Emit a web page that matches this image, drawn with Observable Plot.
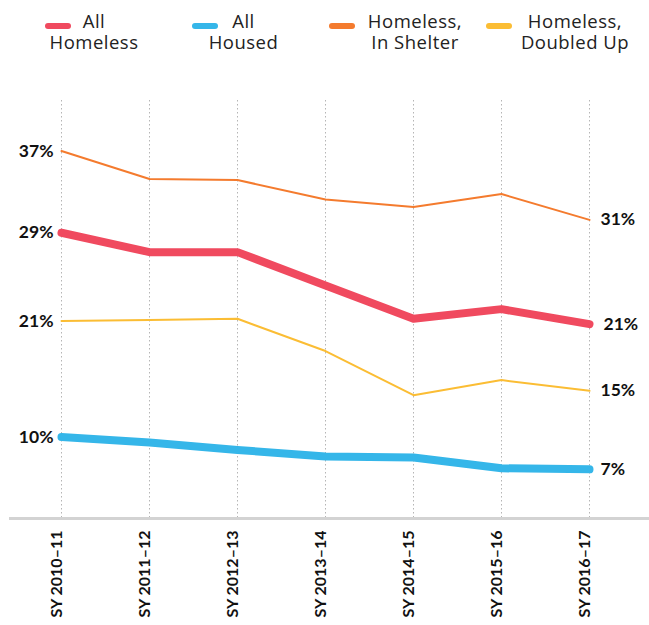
<!DOCTYPE html>
<html>
<head>
<meta charset="utf-8">
<script src="https://cdn.jsdelivr.net/npm/d3@7"></script>
<script src="https://cdn.jsdelivr.net/npm/@observablehq/plot@0.6"></script>
<style>
  html, body { margin: 0; padding: 0; background: #fff; }
  #wrap { position: relative; width: 649px; }
  #legend { position: relative; width: 649px; height: 60px; font-family: "Open Sans", sans-serif; font-size: 18.5px; letter-spacing: 0.5px; color: #222; }
  .sw { position: absolute; width: 26px; height: 6px; border-radius: 3px; top: 23px; }
  .lt { position: absolute; width: 160px; text-align: center; line-height: 20px; height: 20px; white-space: nowrap; }
  svg { display: block; }
</style>
</head>
<body>
<div id="wrap">
  <div id="legend"></div>
  <div id="chart"></div>
</div>
<script>
// ---- data ----
const years = ["SY 2010–11", "SY 2011–12", "SY 2012–13", "SY 2013–14", "SY 2014–15", "SY 2015–16", "SY 2016–17"];
const allHomeless = [29.4, 27.6, 27.6, 24.5, 21.4, 22.3, 20.9];
const allHoused   = [10.4, 9.9, 9.2, 8.6, 8.5, 7.5, 7.4];
const inShelter   = [37.0, 34.4, 34.3, 32.5, 31.8, 33.0, 30.6];
const doubledUp   = [21.2, 21.3, 21.4, 18.4, 14.3, 15.7, 14.7];
const seriesNames = ["All Homeless", "All Housed", "Homeless, In Shelter", "Homeless, Doubled Up"];
const legendLines = [["All", "Homeless"], ["All", "Housed"], ["Homeless,", "In Shelter"], ["Homeless,", "Doubled Up"]];
const colors = ["#f04a5f", "#35b6e9", "#f47b2e", "#fbbd34"];

// ---- layout / style ----
const widths = [8, 8, 2, 2];
const rightDx = [14, 11, 11, 11];
const legendSwatchX = [45, 192, 329, 486];
const legendCenterX = [94, 243.5, 415, 575];
const legendLineTop = [11, 32];

const values = [allHomeless, allHoused, inShelter, doubledUp];
const rows = [];
values.forEach((arr, s) => arr.forEach((v, i) => rows.push({series: seriesNames[s], si: s, year: years[i], i, value: v})));

// legend
const legend = document.getElementById("legend");
seriesNames.forEach((name, s) => {
  const sw = document.createElement("div");
  sw.className = "sw";
  sw.style.left = legendSwatchX[s] + "px";
  sw.style.background = colors[s];
  legend.appendChild(sw);
  legendLines[s].forEach((line, k) => {
    const t = document.createElement("div");
    t.className = "lt";
    t.style.left = (legendCenterX[s] - 80) + "px";
    t.style.top = legendLineTop[k] + "px";
    t.textContent = line;
    legend.appendChild(t);
  });
});

const fmt = v => Math.round(v) + "%";
const order = [2, 3, 1, 0];
const firsts = rows.filter(d => d.i === 0);
const lasts = rows.filter(d => d.i === years.length - 1);

const chart = Plot.plot({
  width: 649,
  height: 565,
  marginLeft: 9,
  marginRight: 0,
  marginTop: 40,
  marginBottom: 107,
  x: {type: "point", domain: years, range: [60, 590.5], padding: 0, axis: null},
  y: {domain: [2.83, 41.7], range: [458, 40], axis: null},
  style: {fontFamily: "Lato, sans-serif", background: "#fff"},
  marks: [
    Plot.ruleX(years, {x: d => d, stroke: "#b5b5b5", strokeWidth: 1, strokeDasharray: "1.5,2.5"}),
    Plot.ruleY([2.83], {stroke: "#d3d3d3", strokeWidth: 3}),
    ...order.map(s => Plot.line(rows.filter(d => d.si === s), {
      x: "year", y: "value", stroke: colors[s], strokeWidth: widths[s],
      strokeLinecap: "round", strokeLinejoin: "round"
    })),
    Plot.text(firsts, {x: "year", y: "value", text: d => fmt(d.value), textAnchor: "end", dx: -8,
      fontSize: 17.5, fontWeight: "bold", fill: "#111"}),
    ...[0, 1, 2, 3].map(s => Plot.text(lasts.filter(d => d.si === s), {x: "year", y: "value", text: d => fmt(d.value),
      textAnchor: "start", dx: rightDx[s], fontSize: 17.5, fontWeight: "bold", fill: "#111"})),
    Plot.text(years, {x: d => d, frameAnchor: "bottom", text: d => d, rotate: -90, textAnchor: "end",
      dy: 12, fontSize: 16, fontWeight: "bold", fill: "#111"})
  ]
});
document.getElementById("chart").appendChild(chart);
</script>
</body>
</html>
